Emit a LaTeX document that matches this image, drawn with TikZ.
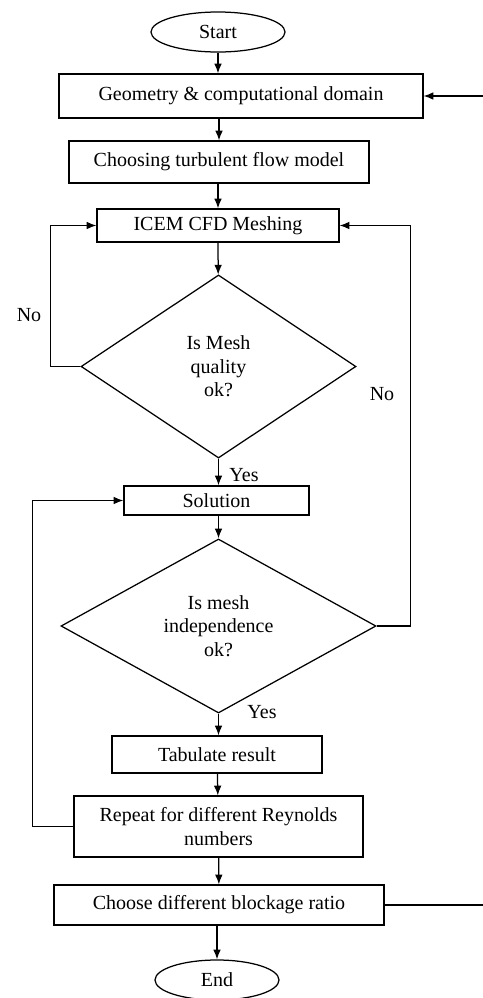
\documentclass[tikz,border=0pt]{standalone}
\usepackage{fontspec}
\setmainfont{Liberation Serif}
\usetikzlibrary{shapes.geometric, arrows.meta}

\begin{document}
\begin{tikzpicture}[x=0.72pt, y=-0.72pt, >={Latex[length=7pt, width=5.5pt]},
    font=\fontsize{14.4}{17}\selectfont, line width=0.9pt,
    box/.style={draw, rectangle, inner sep=0pt, align=center},
    term/.style={draw, ellipse, inner sep=0pt},
    test/.style={draw, diamond, inner sep=0pt, align=center}]
      \useasboundingbox (0,0) rectangle (483,998);

      % Start and end
      \node (start) [term, minimum width=96.5pt, minimum height=28.8pt] at (218,32) {Start};
      \node (end) [term, minimum width=89.3pt, minimum height=28.8pt] at (217,980) {End};

      % Steps
      \node (geom) [box, minimum width=262pt, minimum height=31.7pt] at (241,96) {Geometry \& computational domain};
      \node (turb) [box, minimum width=216pt, minimum height=30.2pt] at (219,162) {Choosing turbulent flow model};
      \node (mesh) [box, minimum width=174.2pt, minimum height=23.8pt] at (218,225.5) {ICEM CFD Meshing};
      \node (solve) [box, minimum width=133.2pt, minimum height=20.9pt] at (216.5,500.5) {Solution};
      \node (tab) [box, minimum width=151.2pt, minimum height=26.6pt] at (217,754.5) {Tabulate result};
      \node (rey) [box, minimum width=208.1pt, minimum height=43.9pt] at (218.5,826.5) {Repeat for different Reynolds\\numbers};
      \node (block) [box, minimum width=237.6pt, minimum height=28.8pt] at (219,905) {Choose different blockage ratio};

      % Checks
      \node (qual) [test, minimum width=198pt, minimum height=131.8pt] at (218.5,366.5) {Is Mesh\\quality\\ok?};
      \node (indep) [test, minimum width=226.8pt, minimum height=125.3pt] at (218.5,626) {Is mesh\\independence\\ok?};

      % Labels
      \node (no1) at (29,315) {No};
      \node (no2) at (382,394) {No};
      \node (yes1) at (244,475) {Yes};
      \node (yes2) at (262,712) {Yes};

      % Arrows
      \draw[->] (start) -- (start |- geom.north);
      \draw[->] (turb.north |- geom.south) -- (turb);
      \draw[->] (turb.south -| mesh.north) -- (mesh);
      \draw[->] (mesh) -- (qual);
      \draw[->] (qual.south) -- (qual.south |- solve.north);
      \draw[->] (solve.south -| indep.north) -- (indep);
      \draw[->] (indep.south) -- (indep.south |- tab.north);
      \draw[->] (tab) -- (rey);
      \draw[->] (rey) -- (block);
      \draw[->] (block.south -| end.north) -- (end);
      \draw[->] (qual.west) -- ++(-30,0) |- (mesh.west);
      \draw[->] (indep.east) -- ++(34,0) |- (mesh.east);
      \draw[->] (rey.west) -- ++(-41,0) |- (solve.west);
      \draw[->] (block.east) -- ++(111,0) |- (geom.east);
   \end{tikzpicture}
\end{document}
